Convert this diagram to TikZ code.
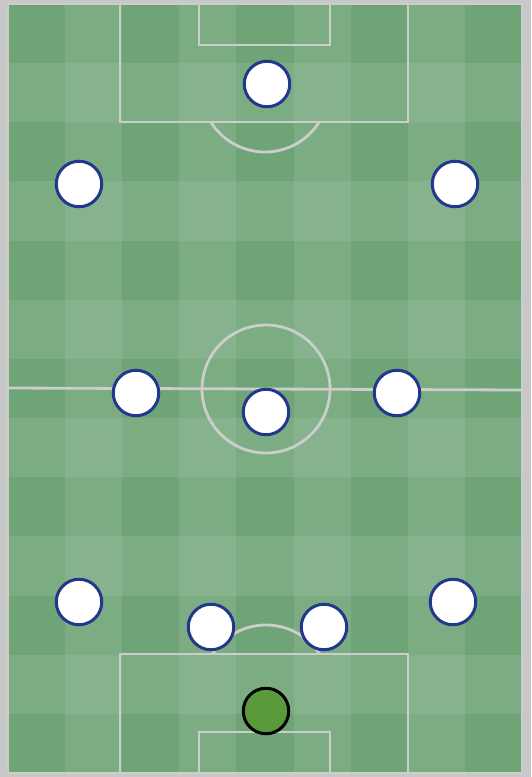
\documentclass[tikz,border=0pt]{standalone}
\begin{document}
\begin{tikzpicture}[x=1pt,y=-1pt,
  pitchline/.style={draw=linecol,line width=2.8pt},
  player/.style={circle,draw=navy,fill=white,line width=3pt,minimum size=45.5pt,inner sep=0pt},
  keeper/.style={circle,draw=black,fill=keepgreen,line width=3pt,minimum size=45.5pt,inner sep=0pt}]
\definecolor{bg}{RGB}{200,200,200}
\definecolor{basegreen}{RGB}{110,164,118}
\definecolor{linecol}{RGB}{204,206,204}
\definecolor{navy}{RGB}{35,55,140}
\definecolor{keepgreen}{RGB}{90,154,58}
\useasboundingbox (0,0) rectangle (531,777);
\fill[bg] (0,0) rectangle (531,777);
% pitch base
\fill[basegreen] (8,4) rectangle (522,773);
% light columns
\foreach \c in {1,3,5,7}{
  \fill[white,opacity=0.09] ({8+\c*514/9},4) rectangle ({8+(\c+1)*514/9},773);
}
% light rows
\foreach \r in {1,3,5,7,9,11}{
  \fill[white,opacity=0.09] (8,{4+\r*769/13}) rectangle (522,{4+(\r+1)*769/13});
}
% markings
\draw[pitchline] (8,4) rectangle (522,773);
\draw[pitchline] (8,388) -- (522,390);
\draw[pitchline] (266,389) circle (64);
\draw[pitchline] (120,4) rectangle (408,122);
\draw[pitchline] (199,4) rectangle (330,45);
\draw[pitchline] (120,654) rectangle (408,773);
\draw[pitchline] (199,732) rectangle (330,773);
\begin{scope}
  \clip (100,122) rectangle (430,200);
  \draw[pitchline] (265,88) circle (64);
\end{scope}
\begin{scope}
  \clip (100,560) rectangle (430,654);
  \draw[pitchline] (266,689) circle (64);
\end{scope}
% players
\node[player] (p1) at (267,84) {};
\node[player] (p2) at (79,184) {};
\node[player] (p3) at (455,184) {};
\node[player] (p4) at (136,393) {};
\node[player] (p5) at (397,393) {};
\node[player] (p6) at (266,412) {};
\node[player] (p7) at (79,602) {};
\node[player] (p8) at (453,602) {};
\node[player] (p9) at (211,627) {};
\node[player] (p10) at (324,627) {};
\node[keeper] (gk) at (266,711) {};
\end{tikzpicture}
\end{document}
